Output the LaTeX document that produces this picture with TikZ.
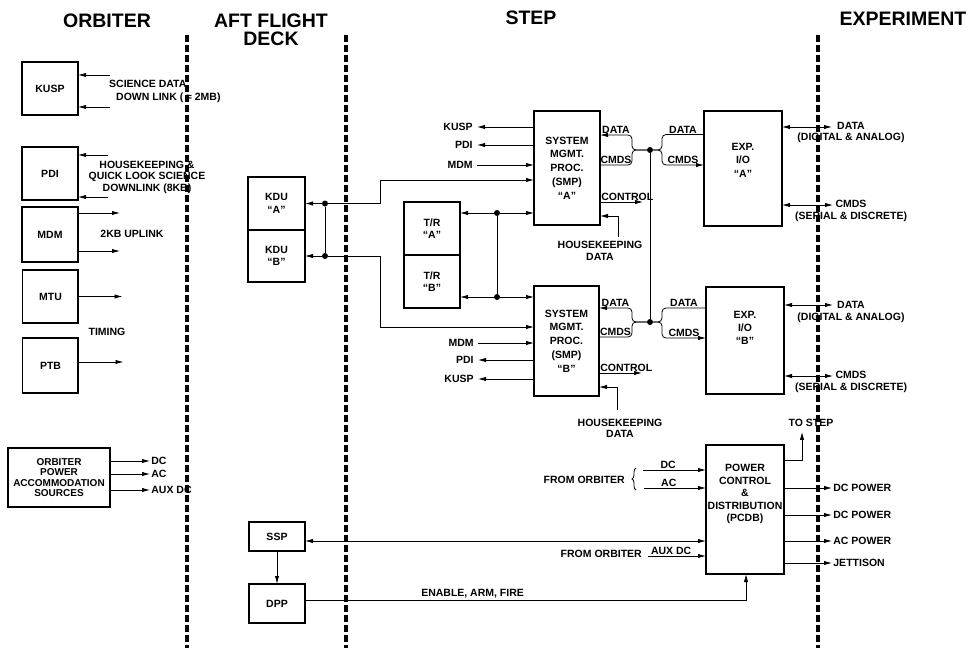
\documentclass[tikz,border=0pt]{standalone}
\usepackage{fontspec}
\setmainfont{Liberation Sans}
\usepackage{tikz}
\usetikzlibrary{arrows.meta,positioning,decorations.pathreplacing}

\begin{document}
\begin{tikzpicture}[
    x=1pt, y=-1pt,
    box/.style={draw, line width=1.3pt, align=center, inner sep=1pt, outer sep=0pt,
                font=\fontsize{10.5}{12.5}\selectfont\bfseries,
                path picture={\draw[line width=2.6pt] (path picture bounding box.south west)
                              -| (path picture bounding box.north east);}},
    obox/.style={box, minimum width=56pt, minimum height=53pt},
    smp/.style={box, minimum width=66pt, font=\fontsize{10.5}{13.7}\selectfont\bfseries},
    lbl/.style={font=\fontsize{10.5}{11.5}\selectfont\bfseries, align=center, inner sep=1pt},
    head/.style={font=\fontsize{19.5}{18}\selectfont\bfseries, align=center, inner sep=0pt},
    arr/.style={-{Latex[length=8pt,width=4.4pt]}, line width=0.8pt},
    rarr/.style={{Latex[length=8pt,width=4.4pt]}-, line width=0.8pt},
    darr/.style={{Latex[length=8pt,width=4.4pt]}-{Latex[length=8pt,width=4.4pt]}, line width=0.8pt},
    wire/.style={line width=0.8pt},
    dot/.style={circle, fill, inner sep=0pt, minimum size=6pt},
    divider/.style={line width=3.2pt, dash pattern=on 7pt off 3pt}
]
\useasboundingbox (0,0) rectangle (969,648);

\node[head] (hOrb) at (107,21) {ORBITER};
\node[head] (hAft) at (271,30) {AFT FLIGHT\\DECK};
\node[head] (hStep) at (531,18) {STEP};
\node[head] (hExp) at (903,19) {EXPERIMENT};

\draw[divider] (187,35) -- (187,648);
\draw[divider] (346,35) -- (346,648);
\draw[divider] (818,35) -- (818,648);

\node[obox] (kusp) at (50,88.5) {KUSP};
\node[obox] (pdi) at (50,173.5) {PDI};
\node[obox, minimum height=55pt] (mdm) at (50,234.5) {MDM};
\node[obox] (mtu) at (50.5,296.5) {MTU};
\node[obox, minimum height=55pt] (ptb) at (50.5,365.5) {PTB};
\node[box, minimum width=102pt, minimum height=59pt, font=\fontsize{10}{10.5}\selectfont\bfseries]
    (ops) at (59,477.5) {ORBITER\\POWER\\ACCOMMODATION\\SOURCES};

\node[box, minimum width=57pt, minimum height=53pt] (kduA) at (276.5,203.5) {KDU\\``A''};
\node[box, minimum width=57pt, minimum height=52pt, below=0pt of kduA] (kduB) {KDU\\``B''};
\node[box, minimum width=56pt, minimum height=53pt] (trA) at (432,228.5) {T/R\\``A''};
\node[box, minimum width=56pt, minimum height=53pt, below=0pt of trA] (trB) {T/R\\``B''};
\node[box, minimum width=56pt, minimum height=29pt] (ssp) at (277,536.5) {SSP};
\node[box, minimum width=56pt, minimum height=39pt, below=33pt of ssp] (dpp) {DPP};

\node[smp, minimum height=114pt] (smpA) at (567,168) {SYSTEM\\MGMT.\\PROC.\\(SMP)\\``A''};
\node[smp, minimum width=65pt, minimum height=110pt] (smpB) at (566.5,341) {SYSTEM\\MGMT.\\PROC.\\(SMP)\\``B''};

\node[box, minimum width=78pt, minimum height=115pt] (expA) at (743,168.5) {};
\node[lbl, font=\fontsize{10.5}{13.5}\selectfont\bfseries, below=31pt of expA.north] (expAtxt) {EXP.\\I/O\\``A''};
\node[box, minimum width=78pt, minimum height=107pt] (expB) at (745,340.5) {};
\node[lbl, font=\fontsize{10.5}{13}\selectfont\bfseries, below=23pt of expB.north] (expBtxt) {EXP.\\I/O\\``B''};
\node[box, minimum width=78pt, minimum height=129pt] (pcdb) at (745,509.5) {};
\node[lbl, font=\fontsize{10.5}{12.5}\selectfont\bfseries, below=18pt of pcdb.north] (pcdbtxt)
    {POWER\\CONTROL\\\&\\DISTRIBUTION\\(PCDB)};

\draw[rarr] ([yshift=13.5pt]kusp.east) -- +(32,0);
\draw[rarr] ([yshift=-18.5pt]kusp.east) -- +(32,0);
\node[lbl, anchor=west] (sciA) at (108,84) {SCIENCE DATA};
\node[lbl, anchor=west] (sciB) at (115,98) {DOWN LINK ( ≈ 2MB)};
\draw[rarr] ([yshift=18.5pt]pdi.east) -- +(30,0);
\draw[rarr] ([yshift=-23.5pt]pdi.east) -- +(30,0);
\node[lbl] (hkdl) at (147,177) {HOUSEKEEPING \&\\QUICK LOOK SCIENCE\\DOWNLINK (8KB)};
\draw[arr] ([yshift=21.5pt]mdm.east) -- +(42,0);
\draw[arr] ([yshift=-16.5pt]mdm.east) -- +(42,0);
\node[lbl] (upl) at (132,234) {2KB UPLINK};
\draw[arr] (mtu.east) -- +(44,0);
\node[lbl] (tmg) at (107,332) {TIMING};
\draw[arr] ([yshift=3.5pt]ptb.east) -- +(45,0);
\draw[arr] ([yshift=16.5pt]ops.east) -- +(40,0) node[lbl, right] (odc) {DC};
\draw[arr] ([yshift=3.5pt]ops.east) -- +(40,0) node[lbl, right] (oac) {AC};
\draw[arr] ([yshift=-12.5pt]ops.east) -- +(40,0) node[lbl, right] (oaux) {AUX DC};

\node[dot] (dkA) at ([xshift=20pt]kduA.east) {};
\node[dot] (dkB) at ([xshift=20pt]kduB.east) {};
\draw[arr] (dkA) -- (kduA);
\draw[arr] (dkB) -- (kduB);
\draw[wire] (dkA) -- (dkB);
\draw[arr] (dkA) -- ++(55,0) |- ([yshift=-12pt]smpA.west);
\draw[arr] (dkB) -- ++(55,0) |- ([yshift=14pt]smpB.west);

\node[dot] (dtA) at (497,213) {};
\node[dot] (dtB) at (497,297) {};
\draw[arr] (dtA) -- (dtA -| trA.east);
\draw[arr] (dtA) -- (dtA -| smpA.west);
\draw[wire] (dtA) -- (dtB);
\draw[arr] (dtB) -- (dtB -| trB.east);
\draw[arr] (dtB) -- (dtB -| smpB.west);

\draw[arr] ([yshift=41pt]smpA.west) -- +(-57,0) node[lbl, left=3pt] (skA) {KUSP};
\draw[arr] ([yshift=23pt]smpA.west) -- +(-57,0) node[lbl, left=3pt] (spA) {PDI};
\draw[rarr] ([yshift=3pt]smpA.west) -- +(-57,0) node[lbl, left=3pt] (smA) {MDM};
\draw[rarr] ([yshift=-2pt]smpB.west) -- +(-56,0) node[lbl, left=3pt] (smB) {MDM};
\draw[arr] ([yshift=-19pt]smpB.west) -- +(-56,0) node[lbl, left=3pt] (spB) {PDI};
\draw[arr] ([yshift=-38pt]smpB.west) -- +(-56,0) node[lbl, left=3pt] (skB) {KUSP};

\node[dot] (jA) at (650,150) {};
\node[dot] (jB) at (650,322) {};
\draw[wire] (jA) -- (jB);
\draw[arr, rounded corners=4pt] (jA) -- ++(-18,0) |- ([yshift=33pt]smpA.east)
    node[lbl, above, pos=0.75] (sdA) {DATA};
\draw[wire, rounded corners=4pt] (jA) -- ++(-18,0) |- ([yshift=3pt]smpA.east)
    node[lbl, above, pos=0.75] (scA) {CMDS};
\draw[wire, rounded corners=4pt] (jA) -- ++(12,0) |- ([yshift=34pt]expA.west)
    node[lbl, above, pos=0.75] (xdA) {DATA};
\draw[arr, rounded corners=4pt] (jA) -- ++(12,0) |- ([yshift=3.5pt]expA.west)
    node[lbl, above, pos=0.75] (xcA) {CMDS};
\draw[arr, rounded corners=4pt] (jB) -- ++(-18,0) |- ([yshift=33pt]smpB.east)
    node[lbl, above, pos=0.75] (sdB) {DATA};
\draw[wire, rounded corners=4pt] (jB) -- ++(-18,0) |- ([yshift=4pt]smpB.east)
    node[lbl, above, pos=0.75] (scB) {CMDS};
\draw[wire, rounded corners=4pt] (jB) -- ++(12,0) |- ([yshift=32.5pt]expB.west)
    node[lbl, above, pos=0.75] (xdB) {DATA};
\draw[arr, rounded corners=4pt] (jB) -- ++(12,0) |- ([yshift=2.5pt]expB.west)
    node[lbl, above, pos=0.75] (xcB) {CMDS};

\draw[arr] ([yshift=-34pt]smpA.east) -- +(43,0) node[lbl, above right, pos=0] (ctA) {CONTROL};
\draw[arr] ([yshift=-32pt]smpB.east) -- +(43,0) node[lbl, above right, pos=0] (ctB) {CONTROL};
\node[lbl] (hkA) at (600,251) {HOUSEKEEPING\\DATA};
\draw[arr] ([xshift=18pt, yshift=3pt]hkA.north) |- ([yshift=-48pt]smpA.east);
\node[lbl] (hkB) at (620,428.5) {HOUSEKEEPING\\DATA};
\draw[arr] ([xshift=-3pt, yshift=8pt]hkB.north) |- ([yshift=-46pt]smpB.east);

\draw[darr] ([yshift=41.5pt]expA.east) -- +(50,0);
\node[lbl] (edA) at (851,132.5) {DATA\\(DIGITAL \& ANALOG)};
\draw[darr] ([yshift=-36.5pt]expA.east) -- +(51,0);
\node[lbl] (ecA) at (851,211) {CMDS\\(SERIAL \& DISCRETE)};
\draw[darr] ([yshift=35.5pt]expB.east) -- +(49,0);
\node[lbl] (edB) at (851,312) {DATA\\(DIGITAL \& ANALOG)};
\draw[darr] ([yshift=-35.5pt]expB.east) -- +(49,0);
\node[lbl] (ecB) at (851,382) {CMDS\\(SERIAL \& DISCRETE)};

\node[lbl] (tostep) at (811,423) {TO STEP};
\draw[arr] ([yshift=49.5pt]pcdb.east) -| ([xshift=-9pt, yshift=-4pt]tostep.south);
\draw[rarr] ([yshift=39.5pt]pcdb.west) -- +(-63,0) node[lbl, above, pos=0.6] (pdc) {DC};
\draw[rarr] ([yshift=21.5pt]pcdb.west) -- +(-62,0) node[lbl, above, pos=0.6] (pac) {AC};
\draw[wire, decorate, decoration={brace, amplitude=4pt}]
    ([xshift=-70pt, yshift=19.5pt]pcdb.west) -- ([xshift=-70pt, yshift=41.5pt]pcdb.west);
\node[lbl, anchor=east] (fo1) at (626,480) {FROM ORBITER};
\draw[darr] ([yshift=-4.5pt]ssp.east) -- ([yshift=-31.5pt]pcdb.west);
\draw[rarr] ([yshift=-46.5pt]pcdb.west) -- +(-58,0) node[lbl, above, pos=0.6] (paux) {AUX DC};
\node[lbl, anchor=east] (fo2) at (643,554) {FROM ORBITER};
\draw[arr] ([yshift=3.5pt]dpp.east) -| ([xshift=1pt]pcdb.south)
    node[lbl, above, pos=0.19] (eaf) {ENABLE, ARM, FIRE};
\draw[arr] (ssp) -- (dpp);

\draw[arr] ([yshift=21.5pt]pcdb.east) -- +(48,0) node[lbl, right] (o1) {DC POWER};
\draw[arr] ([yshift=-5.5pt]pcdb.east) -- +(48,0) node[lbl, right] (o2) {DC POWER};
\draw[arr] ([yshift=-31.5pt]pcdb.east) -- +(48,0) node[lbl, right] (o3) {AC POWER};
\draw[arr] ([yshift=-53.5pt]pcdb.east) -- +(48,0) node[lbl, right] (o4) {JETTISON};

\end{tikzpicture}
\end{document}
